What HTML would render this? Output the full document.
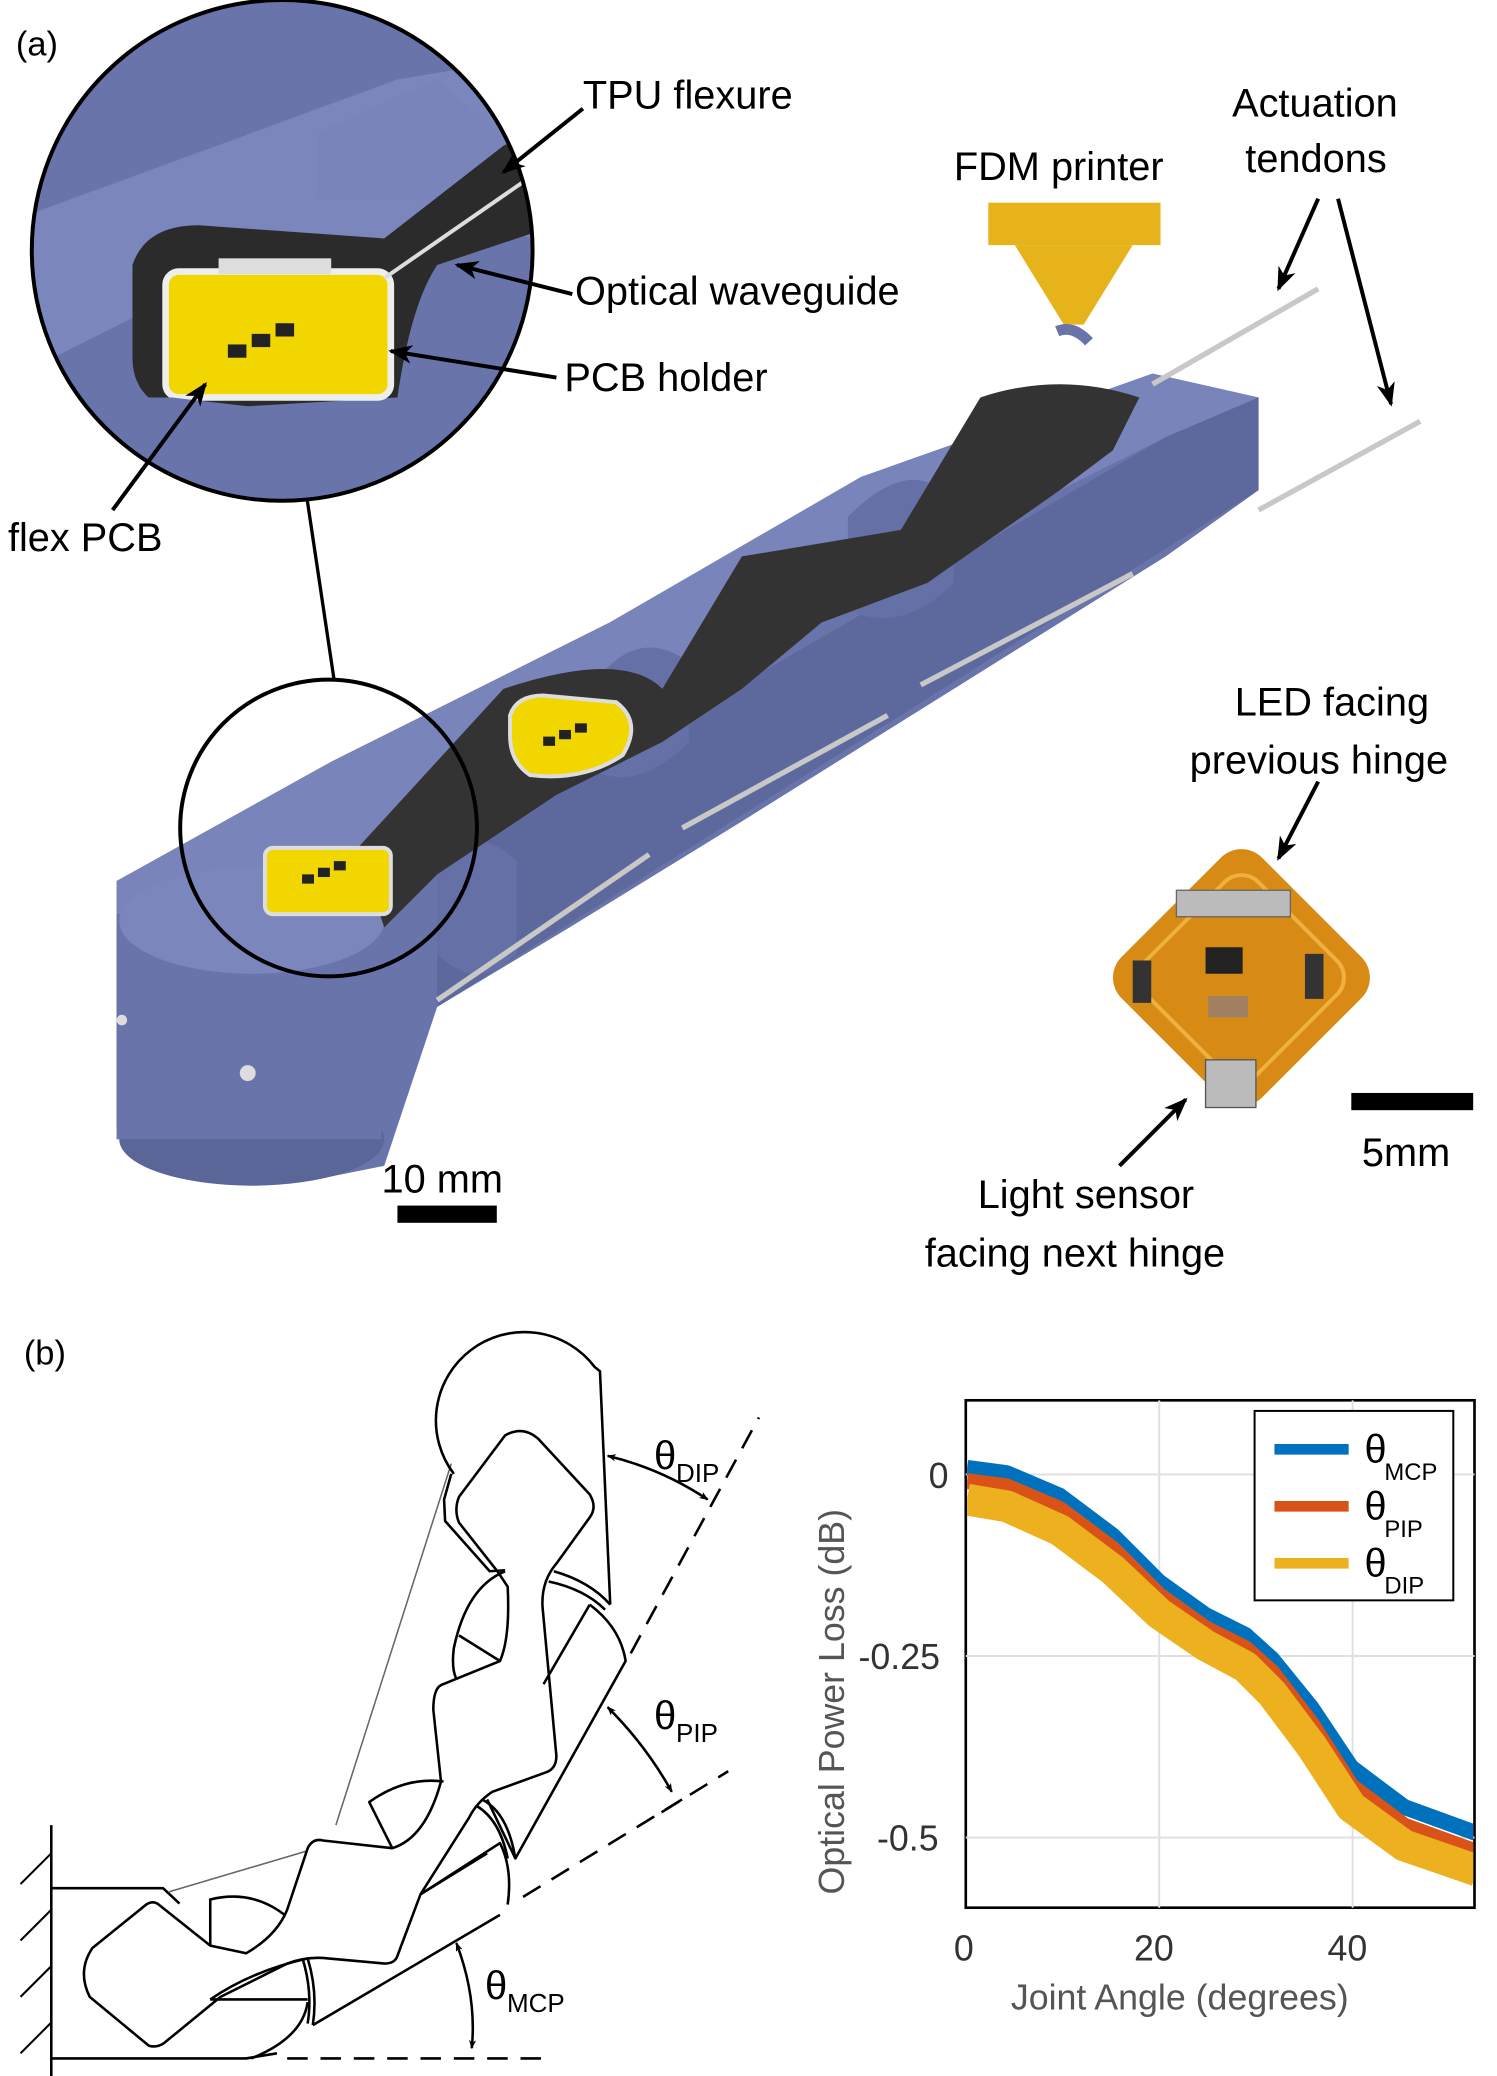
<!DOCTYPE html>
<html><head><meta charset="utf-8"><style>
html,body{margin:0;padding:0;background:#fff}
svg{display:block}
text{font-family:"Liberation Sans",sans-serif}
</style></head><body>
<svg width="1497" height="2076" viewBox="0 0 1497 2076" xmlns="http://www.w3.org/2000/svg">
<defs>
<marker id="ah2" markerWidth="18" markerHeight="14" refX="16" refY="7" orient="auto" markerUnits="userSpaceOnUse"><path d="M0,0 L18,7 L0,14 L5,7z" fill="#000"/></marker>
<marker id="ahb" markerWidth="18" markerHeight="14" refX="2" refY="7" orient="auto" markerUnits="userSpaceOnUse"><path d="M18,0 L0,7 L18,14 L13,7z" fill="#000"/></marker>
<clipPath id="pc"><rect x="730" y="1058" width="382" height="381"/></clipPath>
</defs>
<g transform="scale(1.3248)">
<text x="12" y="42" font-size="26">(a)</text>
<!-- main finger body -->
<polygon points="88,665 250,575 460,470 650,360 870,282 950,300 950,370 880,420 720,520 560,620 430,700 330,760 290,880 240,890 120,885 88,850" fill="#6874aa"/>
<polygon points="88,665 250,575 460,470 650,360 870,282 950,300 880,330 700,420 500,540 330,650 200,710 88,690" fill="#7884ba"/>
<polygon points="330,650 880,330 950,300 950,370 330,760" fill="#5d699c"/>
<ellipse cx="190" cy="860" rx="100" ry="35" fill="#5a6698"/>
<rect x="88" y="690" width="200" height="170" fill="#6874aa"/>
<ellipse cx="190" cy="695" rx="100" ry="40" fill="#7a86bc"/>
<path d="M445,520 Q480,470 520,500 L520,560 Q480,600 445,580z" fill="#6470a6"/>
<path d="M640,390 Q690,340 720,380 L720,440 Q680,480 640,460z" fill="#6470a6"/>
<path d="M330,650 Q360,620 390,650 L390,720 Q360,750 330,720z" fill="#6470a6"/>
<path d="M270,640 L380,520 Q470,490 500,520 L560,420 L680,400 L740,300 Q800,280 860,300 L840,340 L800,370 L700,440 L620,470 L560,520 L500,560 L480,570 L420,600 L330,660 L290,700z" fill="#333"/>
<path d="M385,540 Q390,525 410,525 L465,530 Q485,545 470,570 Q440,590 400,585 Q385,575 385,555z" fill="#f2d600" stroke="#ddd" stroke-width="3"/>
<rect x="200" y="640" width="95" height="50" rx="6" fill="#f2d600" stroke="#ddd" stroke-width="3"/>
<g fill="#222"><rect x="228" y="660" width="9" height="7"/><rect x="240" y="655" width="9" height="7"/><rect x="252" y="650" width="9" height="7"/>
<rect x="410" y="556" width="9" height="7"/><rect x="422" y="551" width="9" height="7"/><rect x="434" y="546" width="9" height="7"/></g>
<g stroke="#c8c8c8" stroke-width="4"><line x1="330" y1="755" x2="490" y2="645"/><line x1="515" y1="625" x2="670" y2="540"/><line x1="695" y1="517" x2="855" y2="433"/>
<line x1="870" y1="290" x2="995" y2="218"/><line x1="950" y1="385" x2="1072" y2="318"/></g>
<circle cx="187" cy="810" r="6" fill="#ddd"/><circle cx="92" cy="770" r="4" fill="#ddd"/>
<rect x="746" y="153" width="130" height="32" fill="#e6b41a"/>
<polygon points="766,185 855,185 818,245 803,245" fill="#e6b41a"/>
<path d="M798,250 Q810,245 822,258" stroke="#6874aa" stroke-width="8" fill="none"/>
<clipPath id="cc"><circle cx="213" cy="189" r="189"/></clipPath>
<g clip-path="url(#cc)">
<rect x="0" y="0" width="420" height="400" fill="#6874aa"/>
<polygon points="0,170 300,60 420,40 420,120 300,180 160,210 60,260 0,290" fill="#7a86bc"/>
<polygon points="240,100 330,60 400,120 400,180 330,150 240,150" fill="#7884ba"/>
<path d="M100,200 Q110,170 150,170 L290,180 L380,110 L420,90 L420,170 L330,200 Q310,230 300,300 L130,310 Q100,300 100,270z" fill="#2b2b2b"/>
<rect x="125" y="205" width="170" height="95" rx="10" fill="#f2d600" stroke="#eee" stroke-width="5"/>
<rect x="165" y="195" width="85" height="12" fill="#ddd"/>
<polygon points="0,300 130,300 300,320 320,260 420,230 420,400 0,400" fill="#6874aa"/>
<line x1="290" y1="210" x2="420" y2="120" stroke="#ddd" stroke-width="3"/>
<g fill="#222"><rect x="172" y="260" width="14" height="10"/><rect x="190" y="252" width="14" height="10"/><rect x="208" y="244" width="14" height="10"/></g>
</g>
<circle cx="213" cy="189" r="189" fill="none" stroke="#000" stroke-width="3"/>
<circle cx="248" cy="625" r="112" fill="none" stroke="#000" stroke-width="3"/>
<line x1="232" y1="378" x2="252" y2="512" stroke="#000" stroke-width="2.5"/>
<g font-size="30">
<text x="440" y="82">TPU flexure</text>
<text x="720" y="136">FDM printer</text>
<text x="930" y="88">Actuation</text>
<text x="940" y="130">tendons</text>
<text x="434" y="230">Optical waveguide</text>
<text x="426" y="295">PCB holder</text>
<text x="6" y="416">flex PCB</text>
<text x="932" y="540">LED facing</text>
<text x="898" y="584">previous hinge</text>
<text x="738" y="912">Light sensor</text>
<text x="698" y="956">facing next hinge</text>
<text x="288" y="900">10 mm</text>
<text x="1028" y="880">5mm</text>
</g>
<g stroke="#000" stroke-width="3" fill="none">
<line x1="440" y1="82" x2="380" y2="130" marker-end="url(#ah2)"/>
<line x1="432" y1="222" x2="345" y2="200" marker-end="url(#ah2)"/>
<line x1="420" y1="285" x2="295" y2="265" marker-end="url(#ah2)"/>
<line x1="85" y1="385" x2="155" y2="290" marker-end="url(#ah2)"/>
<line x1="995" y1="150" x2="965" y2="218" marker-end="url(#ah2)"/>
<line x1="1010" y1="150" x2="1050" y2="305" marker-end="url(#ah2)"/>
<line x1="995" y1="590" x2="965" y2="648" marker-end="url(#ah2)"/>
<line x1="845" y1="880" x2="895" y2="830" marker-end="url(#ah2)"/>
</g>
<rect x="300" y="910" width="75" height="13" fill="#000"/>
<rect x="1020" y="825" width="92" height="13" fill="#000"/>
<rect x="855" y="660" width="150" height="150" rx="22" transform="rotate(45 930 745)" fill="#d78a14"/>
<rect x="870" y="675" width="120" height="120" rx="18" transform="rotate(45 930 745)" fill="none" stroke="#f0b040" stroke-width="3"/>
<rect x="888" y="672" width="86" height="20" fill="#bbb" stroke="#666"/>
<rect x="855" y="725" width="14" height="32" fill="#333"/><rect x="985" y="720" width="14" height="34" fill="#333"/>
<rect x="910" y="715" width="28" height="20" fill="#222"/><rect x="912" y="752" width="30" height="16" fill="#a08060"/>
<rect x="910" y="800" width="38" height="36" fill="#bbb" stroke="#555"/>
<!-- plot -->
<rect x="729" y="1057" width="384" height="383" fill="#fff" stroke="#000" stroke-width="2"/>
<g stroke="#e0e0e0" stroke-width="1.5"><line x1="875" y1="1057" x2="875" y2="1440"/><line x1="1021" y1="1057" x2="1021" y2="1440"/>
<line x1="729" y1="1113" x2="1113" y2="1113"/><line x1="729" y1="1250" x2="1113" y2="1250"/><line x1="729" y1="1387" x2="1113" y2="1387"/></g>
<g fill="none" stroke-linejoin="round" clip-path="url(#pc)">
<polyline stroke="#0072bd" stroke-width="12" points="730,1108 760,1112 800,1129 840,1159 875,1194 910,1219 940,1234 960,1252 990,1289 1020,1334 1060,1364 1115,1384"/>
<polyline stroke="#d95319" stroke-width="12" points="730,1118 760,1122 800,1139 840,1169 875,1204 910,1229 940,1244 960,1262 990,1301 1020,1348 1060,1378 1115,1398"/>
<polyline stroke="#edb120" stroke-width="24" points="730,1132 760,1137 800,1155 840,1185 875,1218 910,1242 940,1258 960,1278 990,1318 1020,1364 1060,1393 1115,1412"/>
</g>
<rect x="947" y="1065" width="150" height="143" fill="#fff" stroke="#000" stroke-width="1.5"/>
<g stroke-width="8"><line x1="962" y1="1094" x2="1018" y2="1094" stroke="#0072bd"/><line x1="962" y1="1137" x2="1018" y2="1137" stroke="#d95319"/><line x1="962" y1="1180" x2="1018" y2="1180" stroke="#edb120"/></g>
<g font-size="30" font-family="Liberation Serif"><text x="1030" y="1104">θ</text><text x="1030" y="1147">θ</text><text x="1030" y="1190">θ</text></g>
<g font-size="18"><text x="1045" y="1117">MCP</text><text x="1045" y="1160">PIP</text><text x="1045" y="1203">DIP</text></g>
<g font-size="27" fill="#333">
<text x="701" y="1123">0</text><text x="648" y="1260">-0.25</text><text x="662" y="1397">-0.5</text>
<text x="720" y="1480">0</text><text x="856" y="1480">20</text><text x="1002" y="1480">40</text>
<text x="763" y="1517" fill="#555">Joint Angle (degrees)</text>
<text transform="translate(637,1430) rotate(-90)" fill="#555">Optical Power Loss (dB)</text>
</g>
<text x="18" y="1030" font-size="26">(b)</text>
</g>
<g transform="translate(0,1320) scale(0.5128)" fill="none" stroke="#000" stroke-width="5" stroke-linejoin="round">
<line x1="100" y1="985" x2="100" y2="1580"/>
<g stroke-width="4"><line x1="40" y1="1100" x2="100" y2="1040"/><line x1="40" y1="1210" x2="100" y2="1150"/><line x1="40" y1="1320" x2="100" y2="1260"/><line x1="40" y1="1430" x2="100" y2="1370"/><line x1="40" y1="1540" x2="100" y2="1480"/></g>
<polyline points="100,1108 318,1108 350,1138"/>
<polyline points="100,1440 480,1440 540,1430"/>
<line x1="560" y1="1440" x2="1060" y2="1440" stroke-dasharray="40,25"/>
<line x1="1020" y1="1125" x2="1330" y2="935" stroke-dasharray="40,25"/>
<line x1="1290" y1="960" x2="1420" y2="880" stroke-dasharray="40,25"/>
<line x1="1230" y1="650" x2="1480" y2="190" stroke-dasharray="40,25"/>
<line x1="330" y1="1115" x2="600" y2="1035" stroke="#666" stroke-width="3"/>
<line x1="655" y1="985" x2="880" y2="280" stroke="#666" stroke-width="3"/>
<path d="M895,345 L985,225 Q1020,205 1050,232 L1150,340 Q1165,365 1150,385 L1085,475 Q1055,510 1058,560 L1085,850 Q1085,875 1065,882 L960,920 Q930,940 915,970 L820,1120 L775,1240 Q770,1255 750,1255 L640,1245 Q600,1240 560,1255 L430,1320 L320,1410 Q305,1420 290,1415 L175,1320 Q150,1270 180,1225 L285,1140 Q300,1130 312,1142 L410,1220 L480,1235 Q540,1200 560,1150 L600,1030 Q610,1010 630,1015 L765,1030 Q830,1010 860,900 L845,760 Q845,720 860,712 L975,665 Q995,620 990,520 L970,490 L895,395 Q885,370 895,345z"/>
<path d="M1190,555 L1170,100 L1160,92 A150,150 0 1 0 885,300"/>
<polyline points="880,300 866,350 868,392 955,490 985,488"/>
<path d="M1080,490 Q1150,510 1190,555"/>
<path d="M1070,510 Q1140,525 1180,565"/>
<path d="M1150,555 Q1210,600 1220,665 L1005,1050 L950,935"/>
<line x1="1060" y1="710" x2="1150" y2="555"/>
<path d="M985,490 Q910,520 885,640 Q880,680 890,700"/>
<line x1="895" y1="615" x2="975" y2="665"/>
<path d="M940,935 Q990,960 1005,1050"/>
<path d="M930,948 Q975,975 990,1050"/>
<path d="M990,1140 Q1000,1070 975,1020 L820,1120"/>
<line x1="610" y1="1375" x2="975" y2="1160"/>
<line x1="820" y1="1120" x2="950" y2="1040"/>
<path d="M865,900 Q790,890 720,940 L765,1030"/>
<path d="M410,1325 Q490,1270 600,1245 Q620,1310 610,1375"/>
<path d="M590,1245 Q610,1310 600,1372"/>
<line x1="410" y1="1325" x2="600" y2="1325"/>
<path d="M555,1160 Q490,1110 410,1130 L410,1220"/>
<path d="M600,1330 Q590,1400 490,1440"/>
<path d="M1185,265 Q1290,290 1380,350" marker-start="url(#ahb)" marker-end="url(#ah2)"/>
<path d="M1185,755 Q1260,830 1310,920" marker-start="url(#ahb)" marker-end="url(#ah2)"/>
<path d="M890,1215 Q930,1320 920,1420" marker-start="url(#ahb)" marker-end="url(#ah2)"/>
</g>
<g font-size="40">
<text x="654" y="1469" font-family="Liberation Serif">θ</text><text x="676" y="1482" font-size="26">DIP</text>
<text x="654" y="1729" font-family="Liberation Serif">θ</text><text x="676" y="1742" font-size="26">PIP</text>
<text x="485" y="1999" font-family="Liberation Serif">θ</text><text x="507" y="2012" font-size="26">MCP</text>
</g>
</svg>
</body></html>
